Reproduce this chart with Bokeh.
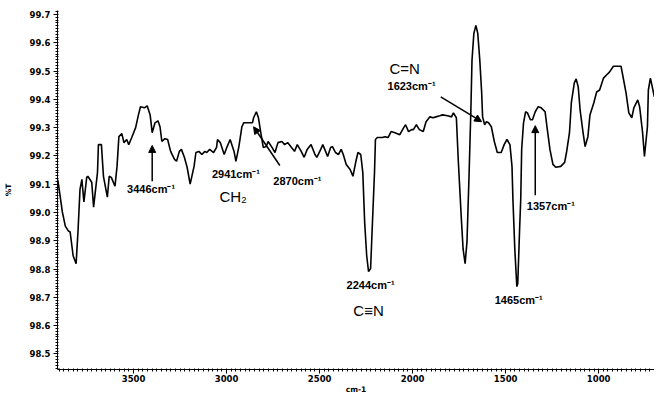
from bokeh.plotting import figure
from bokeh.models import Range1d, SingleIntervalTicker, Label, Arrow, NormalHead, NumeralTickFormatter
from bokeh.embed import file_html
from bokeh.resources import INLINE

# IR spectrum (wavenumber cm-1, %T)
wavenumber = [3909, 3904, 3883, 3867, 3851, 3841, 3825, 3809, 3799, 3788, 3778, 3767, 3752, 3746,
              3725, 3715, 3694, 3689, 3673, 3662, 3641, 3631, 3620, 3600, 3589, 3579, 3563, 3552,
              3537, 3526, 3510, 3489, 3474, 3463, 3442, 3427, 3411, 3400, 3385, 3369, 3358, 3348,
              3332, 3317, 3301, 3280, 3269, 3254, 3243, 3227, 3212, 3196, 3175, 3165, 3149, 3133,
              3117, 3107, 3091, 3070, 3054, 3049, 3034, 3013, 2997, 2981, 2960, 2950, 2934, 2918,
              2908, 2882, 2861, 2855, 2840, 2829, 2819, 2803, 2787, 2777, 2756, 2740, 2724, 2703,
              2688, 2672, 2651, 2635, 2620, 2599, 2583, 2567, 2546, 2525, 2515, 2494, 2483, 2468,
              2457, 2441, 2431, 2415, 2399, 2384, 2373, 2357, 2336, 2321, 2305, 2294, 2279, 2268,
              2258, 2247, 2237, 2226, 2216, 2205, 2200, 2190, 2163, 2148, 2132, 2116, 2095, 2069,
              2048, 2038, 2022, 2006, 1996, 1980, 1964, 1943, 1928, 1907, 1891, 1875, 1854, 1839,
              1812, 1791, 1781, 1765, 1755, 1739, 1729, 1718, 1708, 1697, 1687, 1681, 1671, 1660,
              1650, 1639, 1629, 1624, 1613, 1603, 1592, 1577, 1561, 1545, 1524, 1508, 1493, 1477,
              1466, 1461, 1451, 1440, 1435, 1425, 1419, 1414, 1404, 1393, 1383, 1367, 1356, 1341,
              1325, 1309, 1288, 1278, 1262, 1246, 1231, 1204, 1183, 1173, 1157, 1147, 1131, 1121,
              1110, 1100, 1084, 1073, 1058, 1047, 1026, 1011, 995, 974, 958, 942, 921, 895,
              880, 869, 853, 838, 822, 811, 790, 780, 764, 754, 738, 733, 722, 712, 701]
transmittance = [99.117, 99.100, 99.002, 98.952, 98.935, 98.931, 98.847, 98.819, 98.931, 99.082,
                 99.117, 99.037, 99.124, 99.128, 99.107, 99.019, 99.142, 99.240, 99.240, 99.128,
                 99.054, 99.128, 99.124, 99.093, 99.163, 99.268, 99.279, 99.247, 99.258, 99.240,
                 99.265, 99.300, 99.345, 99.374, 99.370, 99.377, 99.345, 99.282, 99.317, 99.324,
                 99.303, 99.251, 99.261, 99.258, 99.216, 99.188, 99.181, 99.216, 99.223, 99.195,
                 99.159, 99.100, 99.163, 99.212, 99.216, 99.205, 99.216, 99.212, 99.223, 99.212,
                 99.230, 99.258, 99.247, 99.205, 99.233, 99.258, 99.216, 99.181, 99.233, 99.303,
                 99.317, 99.317, 99.317, 99.335, 99.356, 99.335, 99.293, 99.230, 99.233, 99.251,
                 99.230, 99.212, 99.247, 99.251, 99.240, 99.247, 99.230, 99.216, 99.240, 99.216,
                 99.195, 99.223, 99.240, 99.205, 99.195, 99.223, 99.240, 99.216, 99.198, 99.230,
                 99.233, 99.212, 99.205, 99.223, 99.205, 99.170, 99.152, 99.128, 99.181, 99.212,
                 99.205, 99.142, 98.966, 98.847, 98.791, 98.802, 98.966, 99.142, 99.258, 99.265,
                 99.265, 99.268, 99.265, 99.286, 99.282, 99.275, 99.300, 99.310, 99.286, 99.293,
                 99.293, 99.310, 99.293, 99.286, 99.321, 99.338, 99.335, 99.338, 99.342, 99.345,
                 99.342, 99.338, 99.352, 99.335, 99.188, 98.987, 98.872, 98.819, 98.896, 99.128,
                 99.363, 99.538, 99.633, 99.661, 99.633, 99.538, 99.423, 99.338, 99.310, 99.321,
                 99.317, 99.303, 99.251, 99.212, 99.212, 99.240, 99.258, 99.240, 99.163, 99.047,
                 98.872, 98.738, 98.749, 98.942, 99.047, 99.223, 99.317, 99.356, 99.352, 99.328,
                 99.328, 99.356, 99.374, 99.370, 99.356, 99.303, 99.223, 99.170, 99.160, 99.163,
                 99.177, 99.212, 99.282, 99.388, 99.458, 99.472, 99.444, 99.363, 99.282, 99.233,
                 99.268, 99.345, 99.388, 99.426, 99.433, 99.475, 99.486, 99.496, 99.517, 99.517,
                 99.517, 99.479, 99.423, 99.352, 99.335, 99.370, 99.398, 99.374, 99.282, 99.198,
                 99.303, 99.433, 99.475, 99.444, 99.409]

# annotations: (text, x, y)
peak_labels = [("3446cm\u207b\u00b9", 3406, 99.082), ("2941cm\u207b\u00b9", 2950, 99.135),
               ("2870cm\u207b\u00b9", 2620, 99.110), ("2244cm\u207b\u00b9", 2226, 98.742),
               ("1623cm\u207b\u00b9", 2006, 99.447), ("1357cm\u207b\u00b9", 1257, 99.023),
               ("1465cm\u207b\u00b9", 1430, 98.689)]
group_labels = [("CH\u2082", 2965, 99.058), ("C\u2261N", 2237, 98.654), ("C=N", 2043, 99.510)]
arrows = [(3400, 99.110, 3400, 99.237), (2714, 99.166, 2855, 99.303),
          (1849, 99.409, 1629, 99.321), (1341, 99.061, 1341, 99.307)]

p = figure(width=654, height=396, output_backend="svg", toolbar_location=None,
           x_range=Range1d(3909, 700), y_range=Range1d(98.445, 99.714),
           min_border_left=49, min_border_right=0, min_border_top=10, min_border_bottom=10)
p.background_fill_color = "white"
p.border_fill_color = "white"
p.outline_line_color = None
p.xgrid.grid_line_color = None
p.ygrid.grid_line_color = None

p.line(wavenumber, transmittance, line_color="black", line_width=1.6)

for ax in (p.xaxis[0], p.yaxis[0]):
    ax.axis_line_color = "black"
    ax.axis_line_width = 1
    ax.major_tick_line_color = "black"
    ax.minor_tick_line_color = "black"
    ax.major_tick_out = 4
    ax.major_tick_in = 0
    ax.minor_tick_out = 2
    ax.minor_tick_in = 1
    ax.major_label_text_font = "DejaVu Sans"
    ax.major_label_text_font_style = "bold"
    ax.major_label_text_font_size = "8.5px"
    ax.major_label_text_color = "black"
    ax.axis_label_text_font = "DejaVu Sans"
    ax.axis_label_text_font_style = "bold"
    ax.axis_label_text_font_size = "7.5px"
    ax.axis_label_text_color = "black"

p.xaxis[0].ticker = SingleIntervalTicker(interval=500, num_minor_ticks=20)
p.xaxis[0].major_label_standoff = 1
p.xaxis[0].axis_label = "cm-1"
p.xaxis[0].axis_label_standoff = 0
p.yaxis[0].ticker = SingleIntervalTicker(interval=0.1, num_minor_ticks=10)
p.yaxis[0].formatter = NumeralTickFormatter(format="0.0")
p.yaxis[0].major_label_standoff = 3
p.yaxis[0].axis_label = "%T"
p.yaxis[0].axis_label_standoff = 14

for t, x, y in peak_labels:
    p.add_layout(Label(x=x, y=y, text=t, text_font="Liberation Sans", text_font_style="bold",
                       text_font_size="11px", text_align="center", text_baseline="middle",
                       text_color="black"))
for t, x, y in group_labels:
    p.add_layout(Label(x=x, y=y, text=t, text_font="Liberation Sans", text_font_size="15px",
                       text_align="center", text_baseline="middle", text_color="black"))
for x0, y0, x1, y1 in arrows:
    p.add_layout(Arrow(x_start=x0, y_start=y0, x_end=x1, y_end=y1, line_color="black",
                       line_width=1.5,
                       end=NormalHead(size=7, fill_color="black", line_color="black")))

open("out.html", "w").write(file_html(p, INLINE))
